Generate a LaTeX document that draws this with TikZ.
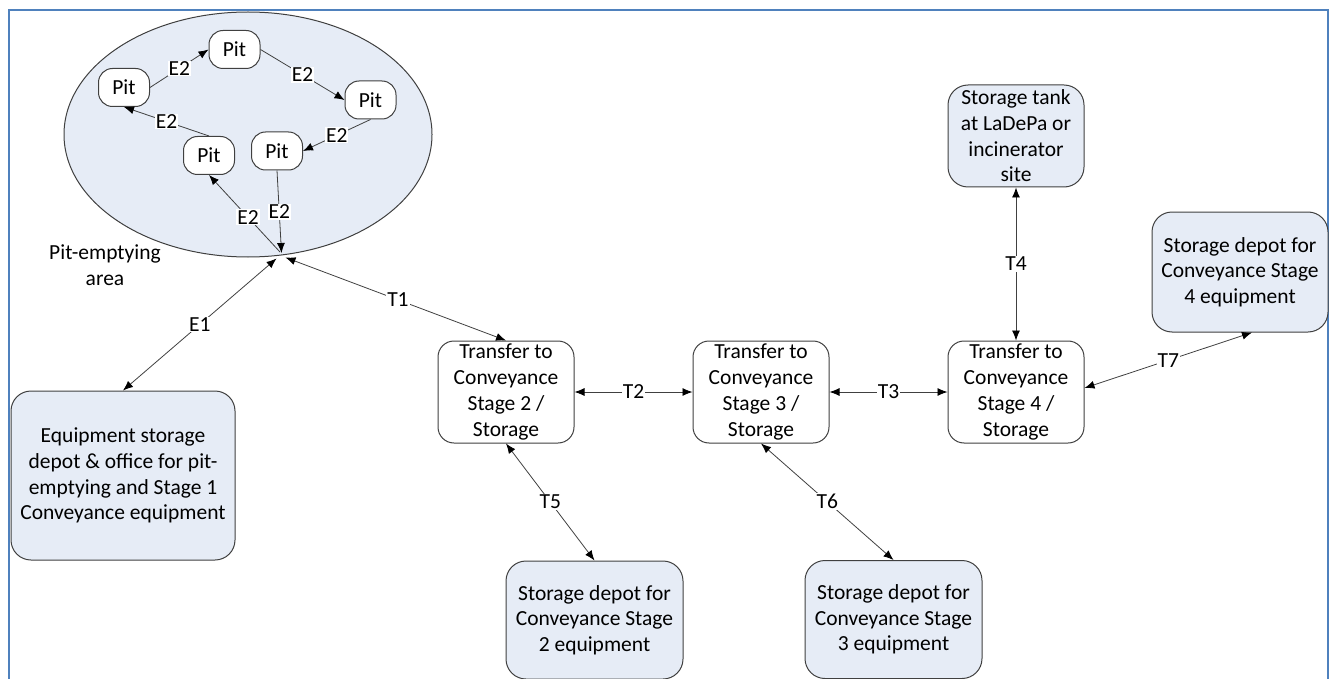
\documentclass[tikz,border=0pt]{standalone}
\usepackage{fontspec}
\setmainfont{Carlito}
\usetikzlibrary{arrows.meta,shapes.geometric}
\definecolor{frameblue}{HTML}{4F81BD}
\definecolor{boxfill}{HTML}{E6ECF6}
\definecolor{edgegray}{HTML}{404040}

\begin{document}
\begin{tikzpicture}[x=1pt,y=-1pt,
  txt/.style={font=\fontsize{21.5}{25.7}\selectfont},
  box/.style={draw=edgegray, line width=1pt, align=center, inner sep=0pt, txt},
  pit/.style={box, fill=white, minimum width=51pt, minimum height=38pt, rounded corners=14pt},
  transfer/.style={box, fill=white, minimum width=136pt, minimum height=102pt, rounded corners=16pt},
  depot/.style={box, fill=boxfill, rounded corners=20pt},
  link/.style={draw=edgegray, line width=0.8pt},
  tip/.style={-{Latex[length=10pt,width=8pt,color=black]}},
  both/.style={{Latex[length=10pt,width=8pt,color=black]}-{Latex[length=10pt,width=8pt,color=black]}},
  lbl/.style={txt, fill=white, inner sep=1pt},
]
\useasboundingbox (0,0) rectangle (1335,679);

% outer frame (open at the bottom)
\draw[frameblue, line width=2.5pt] (9,679) -- (9,10) -- (1328,10) -- (1328,679);

% pit-emptying area
\node[ellipse, draw=edgegray, line width=1pt, fill=boxfill,
      minimum width=368pt, minimum height=245pt, inner sep=0pt] (area) at (248,134.5) {};
\node[txt, align=center] (arealbl) at (105,265) {Pit-emptying\\area};

% pits
\node[pit] (pitA) at (124,87.5) {Pit};
\node[pit] (pitB) at (234.5,49.5) {Pit};
\node[pit] (pitC) at (370.5,100) {Pit};
\node[pit] (pitD) at (277,151) {Pit};
\node[pit] (pitE) at (209,155.5) {Pit};

% meeting point of E1, E2 and T1
\coordinate (hub) at (281.5,253);
\coordinate (hubE) at (280,252);
\coordinate (hubL) at (276.5,258.5);
\coordinate (hubR) at (285.5,257.5);

% boxes
\node[depot, minimum width=224pt, minimum height=169pt] (equip) at (123,475.5)
  {Equipment storage\\depot \& office for pit-\\emptying and Stage 1\\Conveyance equipment};
\node[transfer] (tr2) at (506,392) {Transfer to\\Conveyance\\Stage 2 /\\Storage};
\node[transfer] (tr3) at (761,392) {Transfer to\\Conveyance\\Stage 3 /\\Storage};
\node[transfer] (tr4) at (1016,392) {Transfer to\\Conveyance\\Stage 4 /\\Storage};
\node[depot, minimum width=177pt, minimum height=118pt] (dep2) at (594.5,620)
  {Storage depot for\\Conveyance Stage\\2 equipment};
\node[depot, minimum width=177pt, minimum height=118pt] (dep3) at (893.5,619.5)
  {Storage depot for\\Conveyance Stage\\3 equipment};
\node[depot, minimum width=136pt, minimum height=102pt] (tank) at (1016,136)
  {Storage tank\\at LaDePa or\\incinerator\\site};
\node[depot, minimum width=176pt, minimum height=120pt] (dep4) at (1240,272)
  {Storage depot for\\Conveyance Stage\\4 equipment};

% E2 movements between pits
\draw[link, tip] (pitA.east) -- node[lbl] {E2} (pitB.west);
\draw[link, tip] (pitB.east) -- node[lbl] {E2} (pitC.west);
\draw[link, tip] (pitC.south) -- node[lbl] {E2} (pitD.east);
\draw[link, tip] (pitE.north) -- node[lbl] {E2} (pitA.south);
\draw[link, tip] (hubE) -- node[lbl, pos=0.45] {E2} (pitE.south);
\draw[link, tip] (pitD.south) -- node[lbl, pos=0.5] {E2} (hub);

% E1 and transfers
\coordinate (t7s) at ([yshift=4pt]tr4.east);
\coordinate (t7e) at ([xshift=12pt]dep4.south);
\draw[link, both] (hubL) -- node[lbl] {E1} (equip.north);
\draw[link, both] (hubR) -- node[lbl, pos=0.51] {T1} (tr2.north);
\draw[link, both] (tr2.east) -- node[lbl] {T2} (tr3.west);
\draw[link, both] (tr3.east) -- node[lbl] {T3} (tr4.west);
\draw[link, both] (tank.south) -- node[lbl] {T4} (tr4.north);
\draw[link, both] (tr2.south) -- node[lbl] {T5} (dep2.north);
\draw[link, both] (tr3.south) -- node[lbl] {T6} (dep3.north);
\draw[link, both] (t7s) -- node[lbl] {T7} (t7e);
\end{tikzpicture}
\end{document}
